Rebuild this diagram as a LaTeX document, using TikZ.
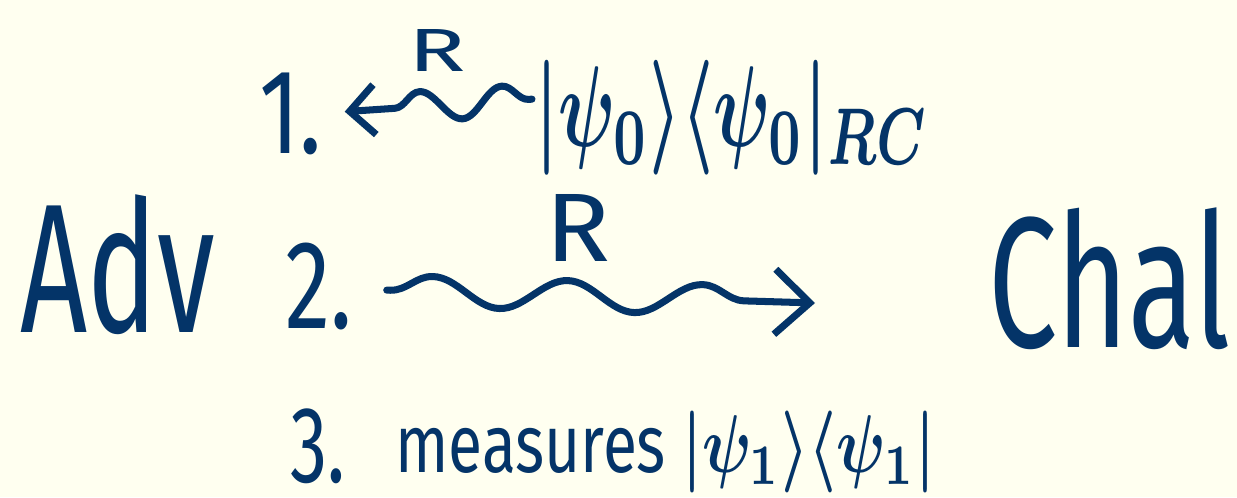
\documentclass[tikz,border=0pt]{standalone}
\usepackage{fontspec}
\setmainfont{Fira Sans}
\usepackage{graphicx}
\usetikzlibrary{arrows.meta, decorations.pathmorphing}
\definecolor{inkblue}{RGB}{4, 52, 104}
\definecolor{paper}{RGB}{255, 255, 240}
\newcommand{\handbox}[3]{\resizebox*{#1cm}{#2cm}{#3}}

\begin{document}
\begin{tikzpicture}[x=0.02cm, y=-0.02cm,
    lbl/.style={text=inkblue, inner sep=0pt, anchor=south west},
    wave/.style={draw=inkblue, line width=4pt, line cap=round, line join=round,
        decorate, decoration={snake, amplitude=0.3cm, segment length=#1,
        pre length=2pt, post length=0.4cm}},
    wave/.default=2cm,
    barb/.style={-{Straight Barb[length=#1, width=1.3cm]}},
    barb/.default=0.7cm]
    \fill[paper] (0,0) rectangle (1237,497);
    \useasboundingbox (0,0) rectangle (1237,497);
    % players
    \node[lbl] (adv) at (20,335) {\handbox{3.9}{2.8}{Adv}};
    \node[lbl] (chal) at (988,350) {\handbox{4.84}{2.84}{Chal}};
    % steps
    \node[lbl] (one) at (259,155) {\handbox{1.26}{1.64}{1.}};
    \node[lbl] (two) at (285,330) {\handbox{1.34}{1.74}{2.}};
    \node[lbl] (three) at (290,484) {\handbox{1.1}{1.5}{3.}};
    \node[lbl] (ket) at (535,176) {\handbox{7.9}{2.3}{\boldmath$|\psi_0\rangle\langle\psi_0|_{RC}$}};
    \node[lbl] (meas) at (395,493) {\handbox{10.8}{1.64}{measures \boldmath$|\psi_1\rangle\langle\psi_1|$}};
    \node[lbl] (r1) at (408,72) {\handbox{1.15}{0.84}{R}};
    \node[lbl] (r2) at (545,262) {\handbox{1.3}{1.34}{R}};
    % register R sent back and forth
    \coordinate (tip2) at (815,303);
    \draw[wave=1.65cm, decoration={mirror}, -{Straight Barb[length=0.5cm, width=1cm]}]
        ([shift={(-3,-19)}]ket.west) -- ([shift={(22,-2)}]one.east);
    \draw[wave=2.7cm, barb] ([shift={(34,4)}]two.east) -- (tip2);
\end{tikzpicture}
\end{document}
